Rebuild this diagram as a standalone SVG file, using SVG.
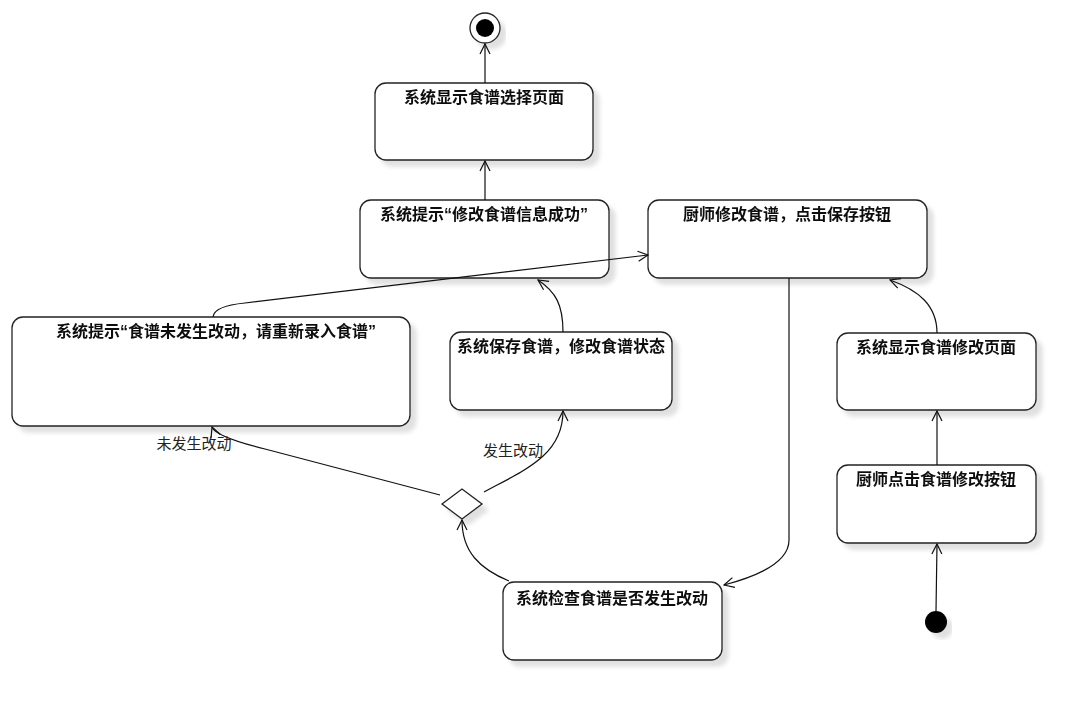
<svg xmlns="http://www.w3.org/2000/svg" width="1086" height="711" viewBox="0 0 1086 711">
<defs>
<style>
.node rect{fill:#fff;stroke:#222;stroke-width:1.3}
.t{font-family:"Noto Sans CJK SC","Liberation Sans",sans-serif;font-size:16px;font-weight:bold;fill:#111;text-anchor:middle}
.q{font-family:"Liberation Sans",sans-serif}
.lbl{font-family:"Noto Sans CJK SC","Liberation Sans",sans-serif;font-size:15px;fill:#222;text-anchor:middle}
.edge{fill:none;stroke:#111;stroke-width:1.2;marker-end:url(#arr)}
</style>
<filter id="sh" x="-10%" y="-10%" width="130%" height="140%">
<feDropShadow dx="6" dy="6" stdDeviation="2" flood-color="#000" flood-opacity="0.12"/>
</filter>
<marker id="arr" viewBox="0 0 12 12" refX="11" refY="6" markerWidth="12" markerHeight="12" markerUnits="userSpaceOnUse" orient="auto">
<path d="M1,1 L11,6 L1,11" fill="none" stroke="#111" stroke-width="1.2"/>
</marker>
</defs>
<rect width="1086" height="711" fill="#fff"/>

<g id="final" filter="url(#sh)">
<circle cx="485" cy="28" r="15" fill="#fff" stroke="#222" stroke-width="1.3"/>
<circle cx="485" cy="28" r="9" fill="#000"/>
</g>
<g id="initial" filter="url(#sh)">
<circle cx="936" cy="622" r="11" fill="#000"/>
</g>

<g id="n1" class="node" filter="url(#sh)">
<rect x="375" y="83" width="218" height="77" rx="11"/>
<text class="t" x="484" y="103">系统显示食谱选择页面</text>
</g>
<g id="n2" class="node" filter="url(#sh)">
<rect x="360" y="200" width="249" height="78" rx="11"/>
<text class="t" x="484" y="220">系统提示<tspan class="q">“</tspan>修改食谱信息成功<tspan class="q">”</tspan></text>
</g>
<g id="n3" class="node" filter="url(#sh)">
<rect x="648" y="200" width="279" height="78" rx="11"/>
<text class="t" x="787" y="220">厨师修改食谱，点击保存按钮</text>
</g>
<g id="n4" class="node" filter="url(#sh)">
<rect x="12" y="317" width="398" height="109" rx="11"/>
<text class="t" x="216" y="337">系统提示<tspan class="q">“</tspan>食谱未发生改动，请重新录入食谱<tspan class="q">”</tspan></text>
</g>
<g id="n5" class="node" filter="url(#sh)">
<rect x="450" y="332" width="222" height="78" rx="11"/>
<text class="t" x="561" y="352">系统保存食谱，修改食谱状态</text>
</g>
<g id="n6" class="node" filter="url(#sh)">
<rect x="837" y="333" width="199" height="77" rx="11"/>
<text class="t" x="936" y="353">系统显示食谱修改页面</text>
</g>
<g id="n7" class="node" filter="url(#sh)">
<rect x="837" y="465" width="199" height="78" rx="11"/>
<text class="t" x="936" y="485">厨师点击食谱修改按钮</text>
</g>
<g id="n8" class="node" filter="url(#sh)">
<rect x="503" y="582" width="219" height="78" rx="11"/>
<text class="t" x="612" y="604">系统检查食谱是否发生改动</text>
</g>
<g id="decision" filter="url(#sh)">
<path d="M442,504 L462,489 L482,504 L462,519 Z" fill="#fff" stroke="#222" stroke-width="1.3"/>
</g>

<g id="connectors">
<path class="edge" d="M485,83 L485,44"/>
<path class="edge" d="M485,200 L485,161"/>
<path class="edge" d="M937,465 L937,411"/>
<path class="edge" d="M936,611 L937,544"/>
<path class="edge" d="M937,333 C937,305 918,290 890,280"/>
<path class="edge" d="M789,278 L789,540 Q789,568 724,585"/>
<path class="edge" d="M213,317 Q214,306 245,303 L648,255"/>
<path class="edge" d="M563,332 C563,305 556,292 538,280"/>
<path class="edge" d="M484,492 C525,470 563,455 563,411"/>
<path class="edge" d="M440,495 L265,449 Q216,437 212,427"/>
<path class="edge" d="M509,581 C480,569 462,552 462,520"/>
<text class="lbl" x="194" y="449">未发生改动</text>
<text class="lbl" x="513" y="456">发生改动</text>
</g>
</svg>
